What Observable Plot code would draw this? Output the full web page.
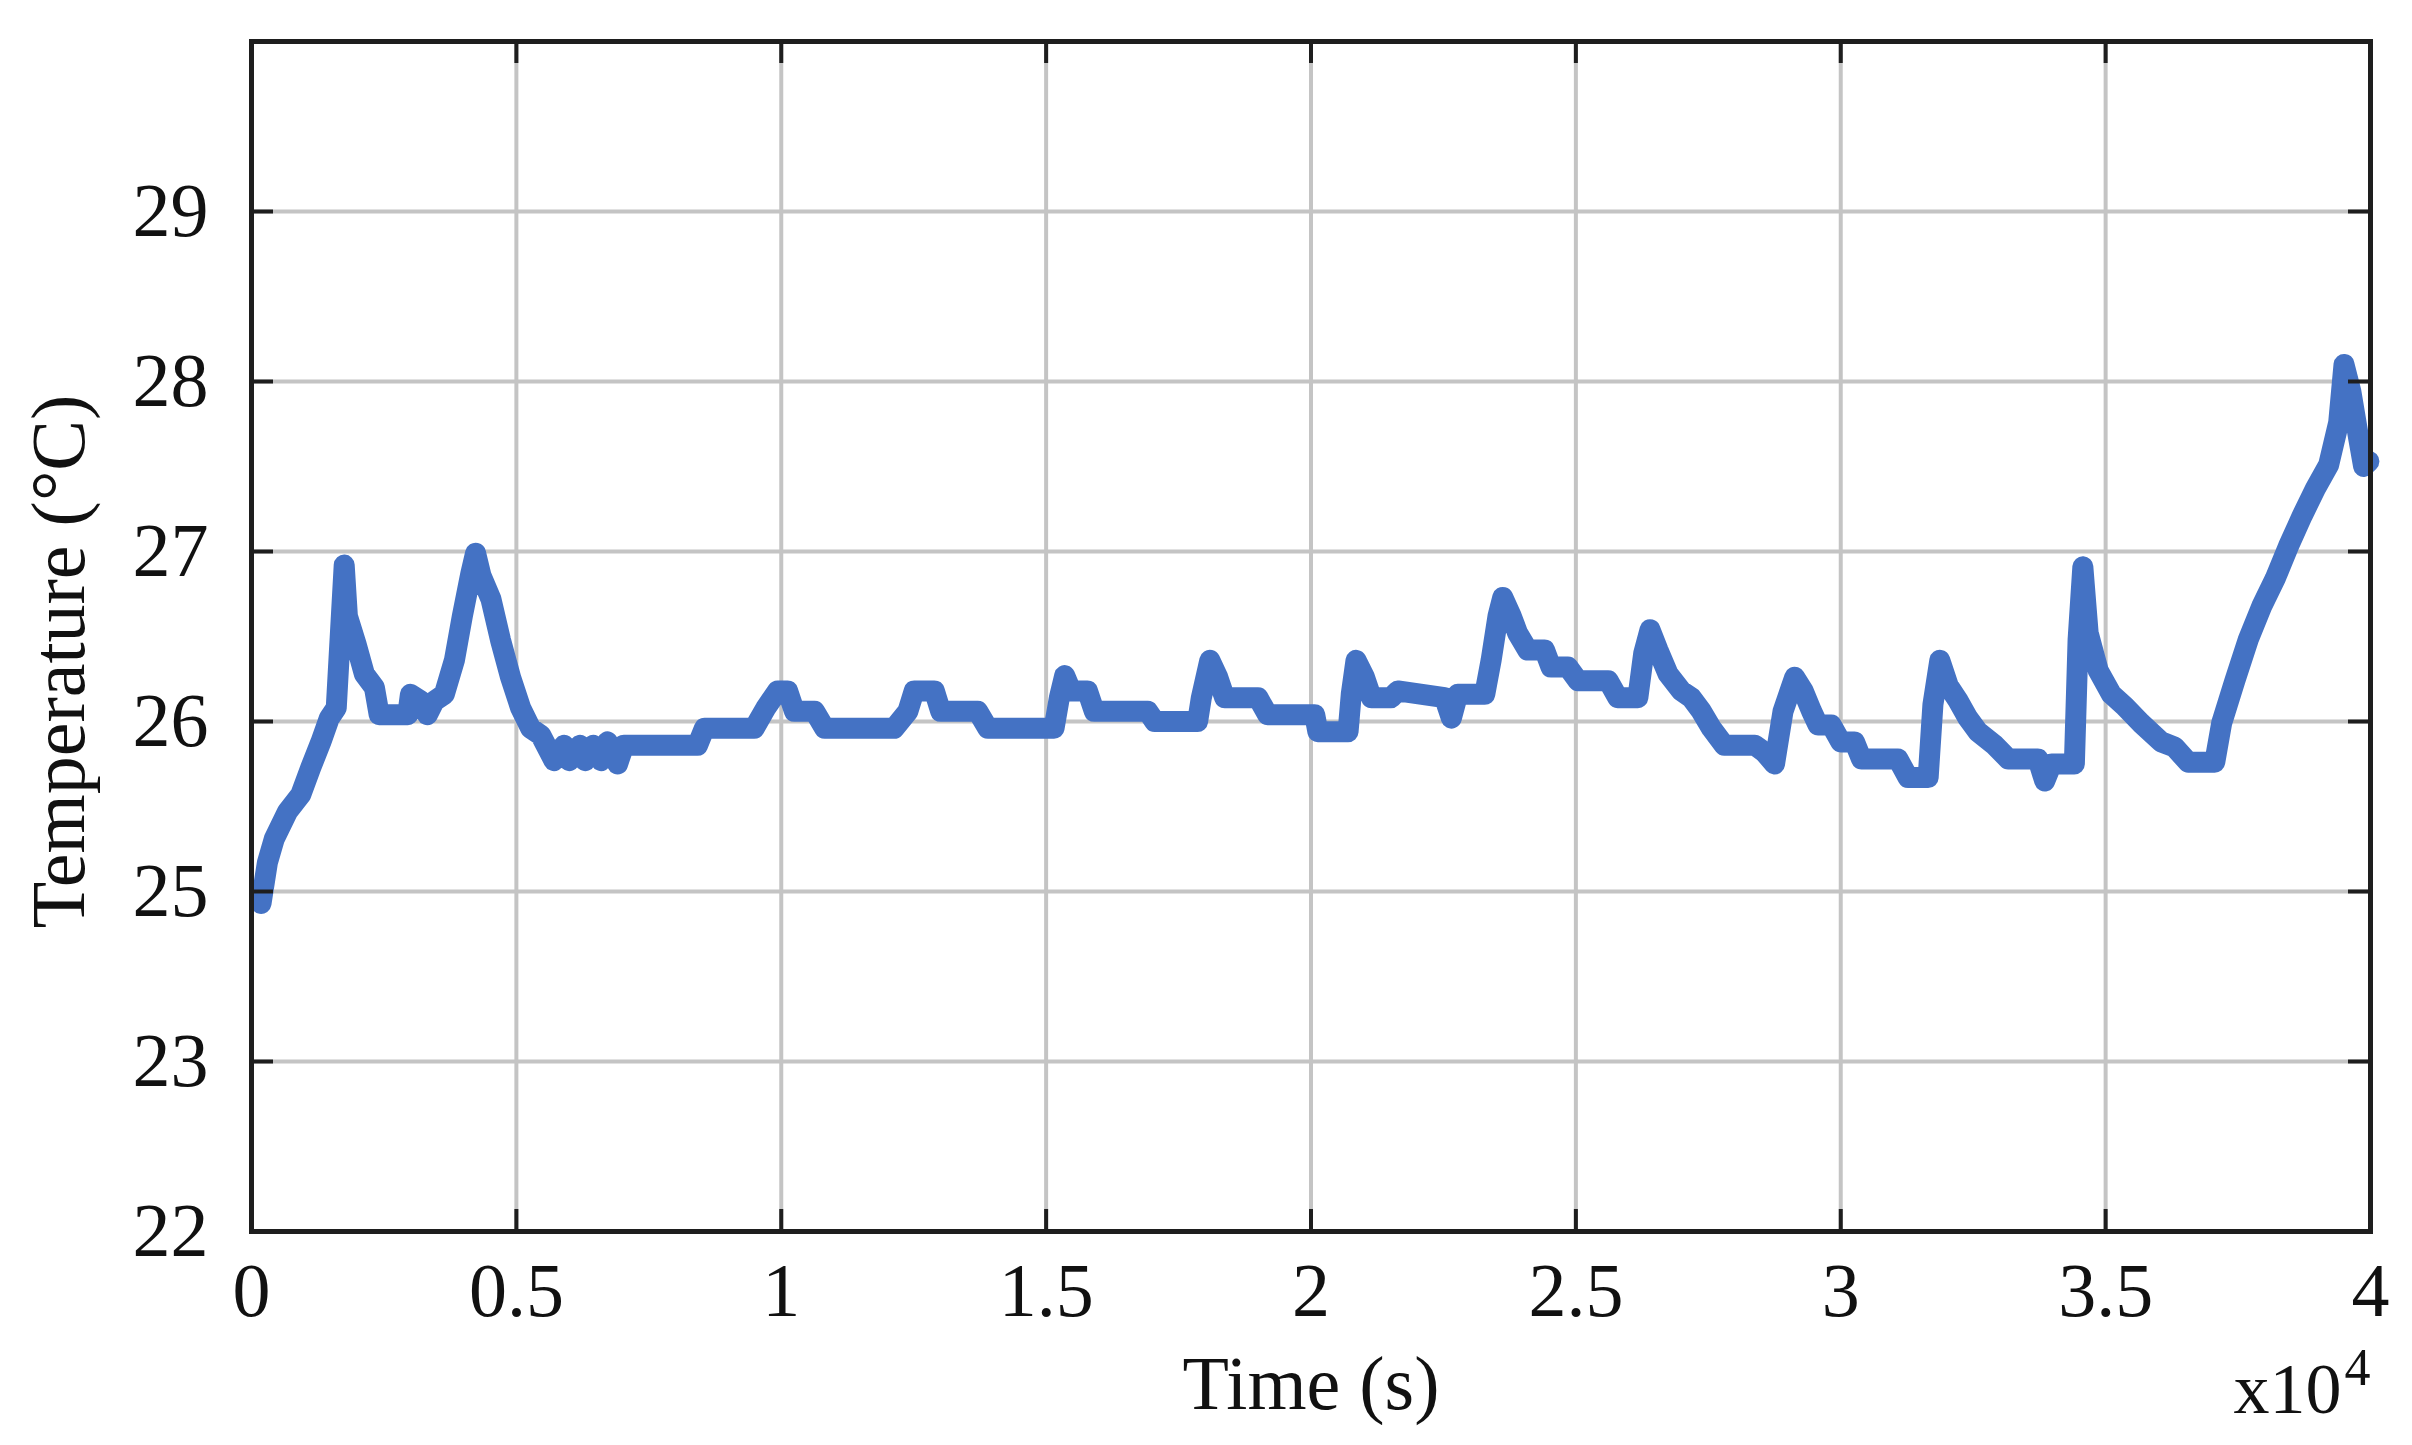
<!DOCTYPE html>
<html><head><meta charset="utf-8">
<script src="https://cdn.jsdelivr.net/npm/d3@7"></script>
<script src="https://cdn.jsdelivr.net/npm/@observablehq/plot@0.6"></script>
<style>
html,body{margin:0;padding:0;background:#fff;}
#chart svg{display:block;}
</style></head><body><div id="chart"></div>
<script>
// Time in units of 1e4 s
const timeE4 = [0.018,0.030,0.043,0.068,0.093,0.112,0.131,0.147,0.160,0.175,0.181,0.197,0.213,0.232,0.241,0.295,0.300,0.320,0.332,0.345,0.364,0.383,0.398,0.414,0.423,0.433,0.452,0.470,0.489,0.508,0.527,0.546,0.571,0.590,0.600,0.620,0.630,0.645,0.660,0.672,0.691,0.703,0.842,0.855,0.949,0.971,0.993,1.012,1.025,1.063,1.082,1.213,1.239,1.251,1.289,1.301,1.371,1.390,1.515,1.525,1.535,1.547,1.578,1.591,1.692,1.705,1.786,1.793,1.809,1.824,1.837,1.900,1.918,2.007,2.013,2.070,2.076,2.085,2.101,2.114,2.151,2.164,2.252,2.265,2.277,2.328,2.340,2.353,2.362,2.378,2.390,2.409,2.441,2.453,2.485,2.504,2.561,2.579,2.617,2.628,2.640,2.655,2.674,2.699,2.718,2.737,2.756,2.780,2.838,2.856,2.875,2.891,2.913,2.929,2.945,2.957,2.982,3.000,3.026,3.039,3.108,3.127,3.165,3.174,3.187,3.203,3.222,3.240,3.259,3.291,3.316,3.372,3.385,3.398,3.441,3.448,3.457,3.467,3.486,3.511,3.536,3.567,3.605,3.630,3.656,3.706,3.719,3.744,3.769,3.795,3.820,3.845,3.871,3.896,3.921,3.940,3.950,3.963,3.978,3.987,3.997];
// Temperature in degrees C
const tempC = [24.93,25.17,25.31,25.47,25.57,25.73,25.88,26.02,26.08,26.92,26.62,26.46,26.28,26.20,26.04,26.04,26.16,26.12,26.04,26.12,26.16,26.36,26.62,26.87,26.99,26.86,26.72,26.48,26.26,26.08,25.96,25.92,25.77,25.86,25.77,25.86,25.77,25.86,25.77,25.88,25.75,25.86,25.86,25.96,25.96,26.08,26.18,26.18,26.06,26.06,25.96,25.96,26.06,26.18,26.18,26.06,26.06,25.96,25.96,26.14,26.27,26.18,26.18,26.06,26.06,26.00,26.00,26.14,26.36,26.26,26.14,26.14,26.04,26.04,25.94,25.94,26.16,26.36,26.26,26.14,26.14,26.18,26.14,26.02,26.16,26.16,26.36,26.62,26.73,26.62,26.52,26.42,26.42,26.32,26.32,26.24,26.24,26.14,26.14,26.40,26.54,26.42,26.28,26.18,26.14,26.06,25.96,25.86,25.86,25.82,25.75,26.06,26.26,26.18,26.06,25.98,25.98,25.88,25.88,25.78,25.78,25.67,25.67,26.10,26.36,26.21,26.12,26.02,25.94,25.86,25.78,25.78,25.65,25.75,25.75,26.48,26.91,26.52,26.30,26.16,26.09,25.99,25.88,25.85,25.76,25.76,25.99,26.24,26.48,26.68,26.84,27.03,27.21,27.37,27.51,27.76,28.10,27.94,27.66,27.50,27.53];

const xTicks = [0,0.5,1,1.5,2,2.5,3,3.5,4];
const xTickLabels = ["0","0.5","1","1.5","2","2.5","3","3.5","4"];
const yTicks = [23,24,25,26,27,28,29];
const yTickLabels = ["22","23","25","26","27","28","29"];
const xTitle = "Time (s)";
const yTitle = "Temperature (°C)";
const xExpBase = "x10";
const xExpPow = "4";

const data = timeE4.map((t, i) => ({t, v: tempC[i]}));
const xLab = new Map(xTicks.map((d, i) => [d, xTickLabels[i]]));
const yLab = new Map(yTicks.map((d, i) => [d, yTickLabels[i]]));

const W = 2412, H = 1445, mL = 251, mR = 42, mT = 41, mB = 214;
const pw = W - mL - mR, ph = H - mT - mB;
const tickLen = 22;
const ink = "#1e1e1e";
const font = "'Liberation Serif', 'Times New Roman', serif";

const plot = Plot.plot({
  width: W, height: H,
  marginLeft: mL, marginRight: mR, marginTop: mT, marginBottom: mB,
  style: {fontFamily: font, fontSize: "76px", background: "#fff", color: "#111"},
  x: {domain: [0, 4]},
  y: {domain: [23, 30]},
  marks: [
    Plot.gridX(xTicks, {stroke: "#c4c4c4", strokeOpacity: 1, strokeWidth: 4}),
    Plot.gridY(yTicks, {stroke: "#c4c4c4", strokeOpacity: 1, strokeWidth: 4}),
    Plot.line(data, {x: "t", y: "v", stroke: "#4472C4", strokeWidth: 21, strokeLinejoin: "round", strokeLinecap: "round"}),
    Plot.frame({stroke: ink, strokeWidth: 5}),
    Plot.tickX(xTicks, {x: d => d, insetTop: ph - tickLen, stroke: ink, strokeWidth: 4}),
    Plot.tickX(xTicks, {x: d => d, insetBottom: ph - tickLen, stroke: ink, strokeWidth: 4}),
    Plot.tickY(yTicks, {y: d => d, insetRight: pw - tickLen, stroke: ink, strokeWidth: 4}),
    Plot.tickY(yTicks, {y: d => d, insetLeft: pw - tickLen, stroke: ink, strokeWidth: 4}),
    Plot.axisX(xTicks, {tickSize: 0, tickPadding: 31, fontSize: 76, tickFormat: d => xLab.get(d), label: null}),
    Plot.axisY(yTicks, {tickSize: 0, tickPadding: 43, fontSize: 76, tickFormat: d => yLab.get(d), label: null}),
    Plot.text([xTitle], {frameAnchor: "bottom", dy: 177, lineAnchor: "bottom", fontSize: 76, fill: "#111"}),
    Plot.text([yTitle], {frameAnchor: "left", dx: -168, dy: 25, rotate: -90, lineAnchor: "bottom", textAnchor: "middle", fontSize: 76, fill: "#111"}),
    Plot.text([xExpBase], {frameAnchor: "bottom-right", dx: -29, dy: 181, lineAnchor: "bottom", textAnchor: "end", fontSize: 72, fill: "#111"}),
    Plot.text([xExpPow], {frameAnchor: "bottom-right", dx: -26, dy: 153, lineAnchor: "bottom", textAnchor: "start", fontSize: 52, fill: "#111"})
  ]
});
document.getElementById("chart").appendChild(plot);
</script>
</body></html>
